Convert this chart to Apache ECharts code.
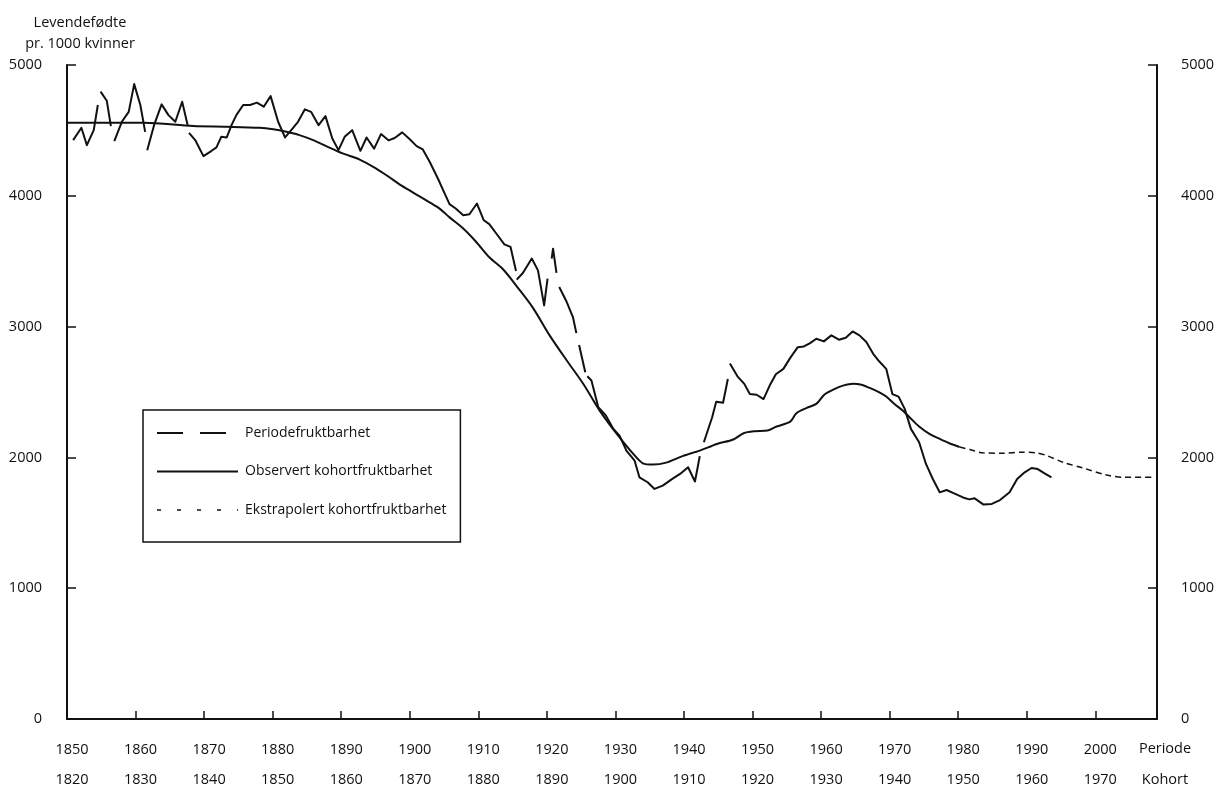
<!DOCTYPE html>
<html><head><meta charset="utf-8">
<script src="https://cdn.jsdelivr.net/npm/echarts@6/dist/echarts.min.js"></script>
<style>html,body{margin:0;padding:0;background:#fff}#c{width:1220px;height:792px}</style>
</head><body><div id="c"></div>
<script>
// ---- Data ----
const periodTicks = [1850,1860,1870,1880,1890,1900,1910,1920,1930,1940,1950,1960,1970,1980,1990,2000];
const cohortTicks = [1820,1830,1840,1850,1860,1870,1880,1890,1900,1910,1920,1930,1940,1950,1960,1970];
const yTicks = [0,1000,2000,3000,4000,5000];

// Periodefruktbarhet, drawn in pieces (the reference shows breaks between them)
const periodSegments = [
  [[1850.9,4426],[1852.1,4520],[1852.9,4387],[1853.9,4502],[1854.5,4694]],
  [[1854.9,4796],[1855.8,4727],[1856.4,4533]],
  [[1856.9,4418],[1858.0,4566],[1859.0,4642],[1859.8,4854],[1860.7,4694],[1861.4,4489]],
  [[1861.7,4349],[1862.7,4540],[1863.8,4699],[1864.8,4617],[1865.8,4566],[1866.8,4719],[1867.6,4540]],
  [[1867.8,4481],[1868.7,4426],[1869.9,4303],[1871.1,4344],[1871.8,4370],[1872.5,4451],[1873.3,4446],[1874.0,4540],
   [1874.7,4617],[1875.7,4694],[1876.7,4694],[1877.7,4712],[1878.7,4681],[1879.7,4762],[1880.8,4566],[1881.8,4446],
   [1882.5,4489],[1883.7,4566],[1884.7,4661],[1885.6,4642],[1886.7,4540],[1887.7,4609],[1888.7,4438],[1889.6,4349],
   [1890.5,4451],[1891.6,4502],[1892.8,4344],[1893.7,4446],[1894.8,4361],[1895.8,4472],[1896.9,4424],[1897.8,4442],
   [1898.9,4485],[1900.0,4432],[1901.0,4380],[1901.9,4354],[1902.9,4260],[1904.1,4132],[1905.1,4017],[1905.8,3936],
   [1906.7,3903],[1907.8,3852],[1908.7,3859],[1909.8,3941],[1910.8,3813],[1911.6,3783],[1912.7,3706],[1913.8,3629],
   [1914.7,3609],[1915.5,3425]],
  [[1915.6,3359],[1916.5,3410],[1917.8,3520],[1918.7,3430],[1919.6,3162],[1920.1,3367]],
  [[1920.7,3520],[1920.9,3596],[1921.4,3410]],
  [[1921.8,3303],[1922.9,3188],[1923.8,3073],[1924.3,2950]],
  [[1924.7,2860],[1925.6,2651]],
  [[1925.9,2620],[1926.5,2588],[1927.5,2384],[1928.6,2320],[1929.7,2218],[1930.6,2167],[1931.6,2052],[1932.8,1975],
   [1933.5,1848],[1934.7,1810],[1935.7,1759],[1936.9,1784],[1938.4,1840],[1939.6,1880],[1940.6,1925],[1941.6,1816],
   [1942.0,1925],[1942.3,2010]],
  [[1942.9,2116],[1944.1,2305],[1944.7,2426],[1945.7,2418],[1946.4,2599]],
  [[1946.7,2718],[1947.8,2620],[1948.8,2562],[1949.6,2484],[1950.6,2479],[1951.6,2446],[1952.5,2549],[1953.4,2636],
   [1954.5,2677],[1955.5,2761],[1956.6,2843],[1957.5,2848],[1958.4,2874],[1959.3,2907],[1960.4,2887],[1961.5,2933],
   [1962.6,2900],[1963.6,2915],[1964.6,2963],[1965.6,2933],[1966.6,2882],[1967.6,2792],[1968.5,2733],[1969.5,2677],
   [1970.4,2484],[1971.3,2465],[1972.2,2371],[1973.1,2218],[1974.3,2116],[1975.3,1950],[1976.3,1835],[1977.3,1733],
   [1978.3,1751],[1979.4,1725],[1980.7,1694],[1981.6,1679],[1982.4,1687],[1983.7,1639],[1984.9,1644],[1986.1,1674],
   [1987.5,1733],[1988.6,1835],[1989.7,1886],[1990.7,1919],[1991.6,1911],[1992.6,1878],[1993.6,1848]]
];

// Observert kohortfruktbarhet (plotted at cohort year + 30)
const cohortObserved = [
  [1850,4559],[1861.2,4559],[1868.4,4533],[1873.3,4528],[1878.1,4520],[1880.1,4508],[1882.0,4489],[1883.9,4464],
  [1885.9,4426],[1887.8,4380],[1890.2,4324],[1892.7,4277],[1895.1,4208],[1896.8,4150],[1898.5,4088],[1900.5,4025],
  [1902.9,3950],[1904.4,3900],[1905.8,3835],[1907.8,3750],[1909.7,3647],[1911.6,3530],[1913.6,3438],[1915.5,3315],
  [1917.9,3149],[1920.4,2933],[1922.9,2741],[1925.3,2563],[1927.7,2358],[1930.2,2180],[1932.6,2027],[1934.0,1955],
  [1935.5,1945],[1937.4,1960],[1939.8,2010],[1942.3,2052],[1944.8,2103],[1947.2,2137],[1948.7,2185],[1950.3,2200],
  [1952.2,2205],[1953.5,2236],[1955.5,2273],[1956.4,2338],[1957.9,2379],[1959.3,2409],[1960.5,2481],[1962.0,2524],
  [1963.2,2549],[1964.7,2563],[1965.9,2555],[1967.1,2531],[1968.5,2497],[1969.5,2465],[1970.7,2409],[1971.9,2358],
  [1972.9,2307],[1974.3,2236],[1975.8,2180],[1977.3,2141],[1978.7,2108],[1980.2,2080]
];

// Ekstrapolert kohortfruktbarhet
const cohortExtrapolated = [
  [1980.2,2080],[1981.7,2060],[1983.6,2035],[1986.5,2032],[1989.4,2040],[1991.4,2035],[1992.9,2014],
  [1995.3,1963],[1998.2,1919],[2001.7,1865],[2004.1,1848],[2008.2,1848]
];

const seriesNames = ['Periodefruktbarhet','Observert kohortfruktbarhet','Ekstrapolert kohortfruktbarhet'];

// ---- Build ----
const periodData = [];
periodSegments.forEach((seg, i) => {
  if (i > 0) periodData.push([seg[0][0], '-']);
  seg.forEach(p => periodData.push(p));
});

const INK = '#111';
const FONT = '"Open Sans", "Noto Sans", sans-serif';
const plain = v => String(v);

const chart = echarts.init(document.getElementById('c'), null, {renderer: 'canvas'});
chart.setOption({
  backgroundColor: '#fff',
  animation: false,
  textStyle: {fontFamily: FONT, color: INK},
  grid: {left: 67, right: 63, top: 65, bottom: 73, containLabel: false},
  legend: {
    left: 143, top: 410, orient: 'vertical',
    padding: [16, 14, 25, 13],
    borderColor: INK, borderWidth: 1.5,
    itemWidth: 81, itemHeight: 14, itemGap: 24.5,
    textStyle: {fontFamily: FONT, fontSize: 14, color: INK, lineHeight: 14, padding: [0, 0, 0, 2]},
    data: [
      {name: seriesNames[0], itemStyle: {opacity: 0}, lineStyle: {type: [26, 17], width: 2, color: INK}},
      {name: seriesNames[1], itemStyle: {opacity: 0}, lineStyle: {type: 'solid', width: 2, color: INK}},
      {name: seriesNames[2], itemStyle: {opacity: 0}, lineStyle: {type: [4, 16], width: 1.5, color: INK}}
    ]
  },
  xAxis: [
    {
      type: 'value', position: 'bottom', min: 1850, max: 2009, interval: 10,
      axisLine: {show: true, onZero: false, lineStyle: {color: INK, width: 2}},
      axisTick: {show: true, inside: true, length: 8, lineStyle: {color: INK, width: 1.5}},
      splitLine: {show: false},
      axisLabel: {
        margin: 23, fontSize: 14.5, color: INK, fontFamily: FONT, padding: [0, 0, 0, 10],
        showMaxLabel: false,
        formatter: v => { const i = periodTicks.indexOf(v); return i >= 0 ? String(periodTicks[i]) : ''; }
      }
    },
    {
      type: 'value', position: 'bottom', min: 1850, max: 2009, interval: 10,
      axisLine: {show: false}, axisTick: {show: false}, splitLine: {show: false},
      axisLabel: {
        margin: 53, fontSize: 14.5, color: INK, fontFamily: FONT, padding: [0, 0, 0, 10],
        showMaxLabel: false,
        formatter: v => { const i = periodTicks.indexOf(v); return i >= 0 ? String(cohortTicks[i]) : ''; }
      }
    }
  ],
  yAxis: [
    {
      type: 'value', position: 'left', min: yTicks[0], max: yTicks[yTicks.length - 1], interval: 1000,
      axisLine: {show: true, lineStyle: {color: INK, width: 2}},
      axisTick: {show: true, inside: true, length: 9, lineStyle: {color: INK, width: 1.5}},
      splitLine: {show: false},
      axisLabel: {margin: 25, fontSize: 14.5, color: INK, fontFamily: FONT, formatter: plain}
    },
    {
      type: 'value', position: 'right', min: yTicks[0], max: yTicks[yTicks.length - 1], interval: 1000,
      axisLine: {show: true, lineStyle: {color: INK, width: 2}},
      axisTick: {show: true, inside: true, length: 9, lineStyle: {color: INK, width: 1.5}},
      splitLine: {show: false},
      axisLabel: {margin: 24, fontSize: 14.5, color: INK, fontFamily: FONT, formatter: plain}
    }
  ],
  graphic: [
    {type: 'text', position: [80, 12], style: {text: 'Levendefødte\npr. 1000 kvinner',
      textAlign: 'center', fontSize: 14.5, lineHeight: 21, fontFamily: FONT, fill: INK}},
    {type: 'text', position: [1165, 741], style: {text: 'Periode', textAlign: 'center', fontSize: 14.5, fontFamily: FONT, fill: INK}},
    {type: 'text', position: [1165, 772], style: {text: 'Kohort', textAlign: 'center', fontSize: 14.5, fontFamily: FONT, fill: INK}}
  ],
  series: [
    {
      name: seriesNames[0], type: 'line', xAxisIndex: 0, yAxisIndex: 0,
      data: periodData, connectNulls: false, symbol: 'none', showSymbol: false,
      lineStyle: {color: INK, width: 2, join: 'round'}, itemStyle: {color: INK}
    },
    {
      name: seriesNames[1], type: 'line', xAxisIndex: 0, yAxisIndex: 0,
      data: cohortObserved, symbol: 'none', showSymbol: false, smooth: 0.3,
      lineStyle: {color: INK, width: 2, join: 'round'}, itemStyle: {color: INK}
    },
    {
      name: seriesNames[2], type: 'line', xAxisIndex: 0, yAxisIndex: 0,
      data: cohortExtrapolated, symbol: 'none', showSymbol: false, smooth: 0.3,
      lineStyle: {color: INK, width: 1.5, type: [6, 4]}, itemStyle: {color: INK}
    }
  ]
});
</script>
</body></html>
